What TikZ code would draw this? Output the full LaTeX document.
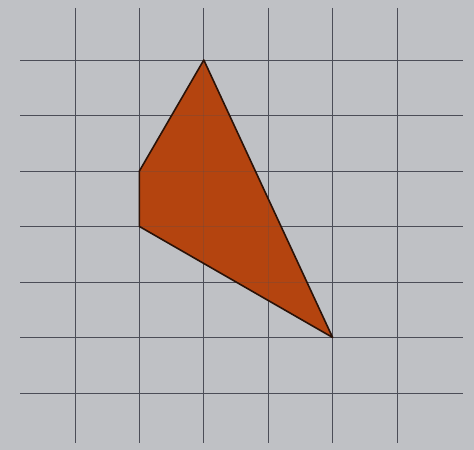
\documentclass[tikz,border=0pt]{standalone}
\usepackage{xcolor}
\usepackage{tikz}
\usetikzlibrary{
  calc,
  backgrounds
}
\definecolor{gPaper}{HTML}{BFC1C5}
\definecolor{gLine}{HTML}{4B4D57}
\definecolor{gFill}{HTML}{B4440F}
\definecolor{gEdge}{HTML}{2A1208}
\tikzset{
  gridline/.style={gLine, line width=0.75pt},
  shinegrid/.style={gLine, line width=0.75pt, opacity=0.25},
  shapefill/.style={fill=gFill, draw=none},
  shapeedge/.style={draw=gEdge, line width=1.6pt, line join=round},
  paper/.style={fill=gPaper, draw=none}
}

\begin{document}
\begin{tikzpicture}[x=64.4pt, y=-55.5pt]
  % paper and frame
  \fill[paper] (-1.165,-1.081) rectangle (6.196,7.027);
  \useasboundingbox (-1.165,-1.081) rectangle (6.196,7.027);
  % grid
  \foreach \i in {0,...,5}
    \draw[gridline] (\i,-0.94) -- (\i,6.9);
  \foreach \j in {0,...,6}
    \draw[gridline] (-0.85,\j) -- (6.03,\j);
  % the quadrilateral
  \coordinate (top) at (2,0);
  \coordinate (upleft) at (1,2);
  \coordinate (lowleft) at (1,3);
  \coordinate (tip) at (4,5);
  \fill[shapefill] (top) -- (upleft) -- (lowleft) -- (tip) -- cycle;
  % grid seen through the paint
  \begin{scope}
    \clip (top) -- (upleft) -- (lowleft) -- (tip) -- cycle;
    \foreach \i in {0,...,5}
      \draw[shinegrid] (\i,-0.94) -- (\i,6.9);
    \foreach \j in {0,...,6}
      \draw[shinegrid] (-0.85,\j) -- (6.03,\j);
  \end{scope}
  \draw[shapeedge] (top) -- (upleft) -- (lowleft) -- (tip) -- cycle;
\end{tikzpicture}
\end{document}
